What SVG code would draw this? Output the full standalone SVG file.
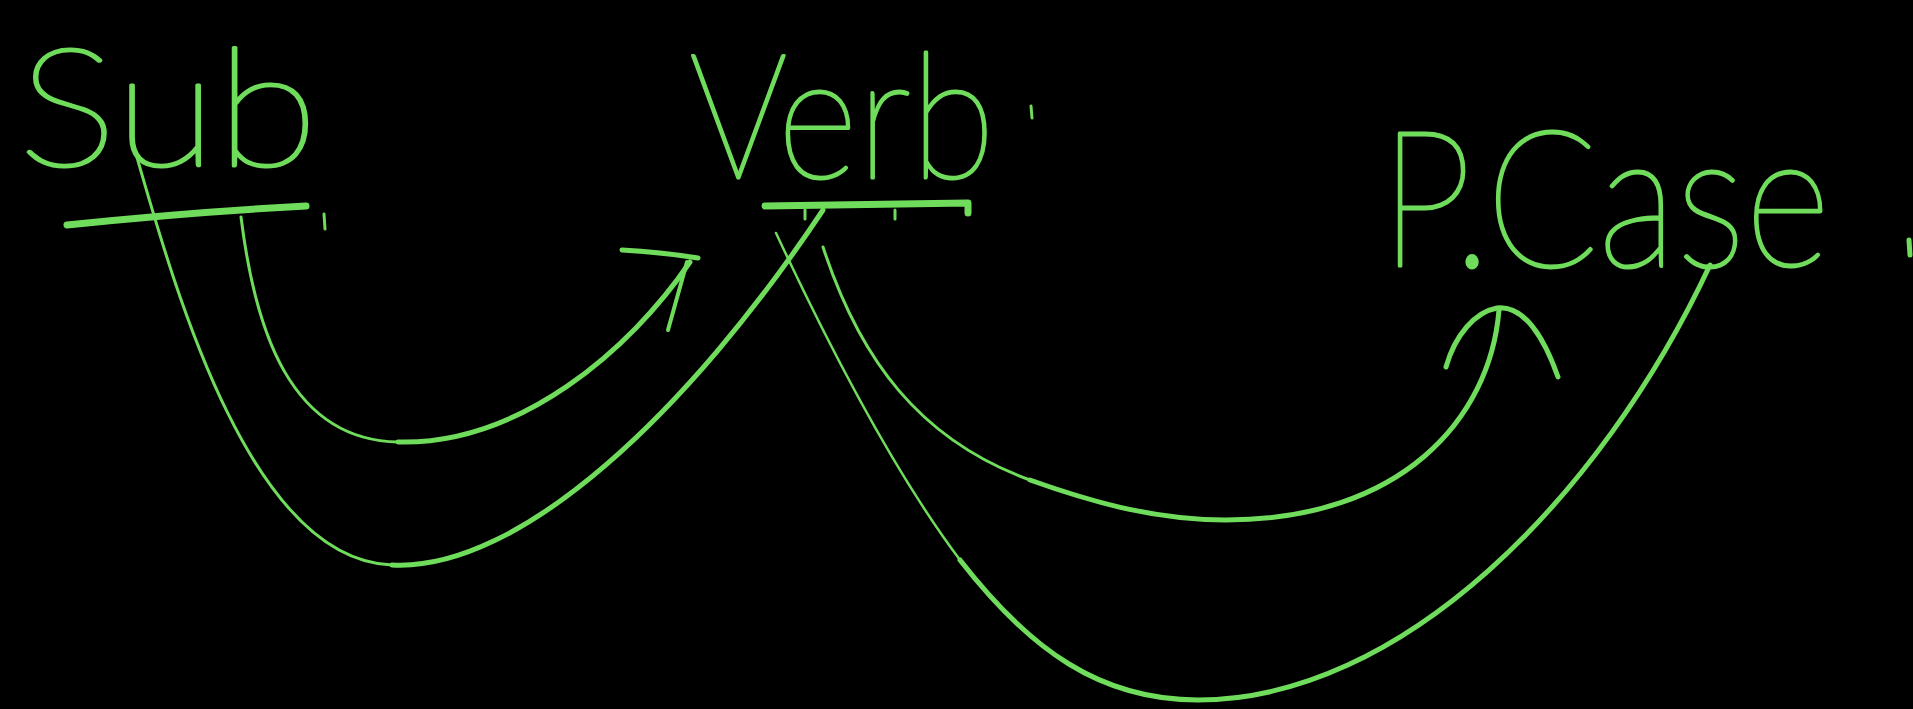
<svg xmlns="http://www.w3.org/2000/svg" width="1913" height="709" viewBox="0 0 1913 709">
<style>
.ink{fill:none;stroke:#6fdc5c;stroke-linecap:round;stroke-linejoin:round}
.lbl{fill:#6fdc5c;stroke:#6fdc5c;stroke-width:3;stroke-linejoin:round;font-family:Lato,Inter,"Open Sans","DejaVu Sans",sans-serif;font-weight:200}
</style>
<rect width="1913" height="709" fill="#000"/>
<g id="sub">
<text class="lbl" x="18" y="166" font-size="165" textLength="300" lengthAdjust="spacingAndGlyphs">Sub</text>
<path class="ink" stroke-width="7" d="M67,225 Q190,212 306,206"/>
<path class="ink" stroke-width="3" d="M324,214 L325,229"/>
</g>
<g id="verb">
<text class="lbl" x="689" y="178" font-size="175" textLength="306" lengthAdjust="spacingAndGlyphs">Verb</text>
<path class="ink" stroke-width="7" d="M765,206 L968,203 L968,213"/>
<path class="ink" stroke-width="3" d="M805,210 L805,219 M895,210 L895,219"/>
<path class="ink" stroke-width="3" d="M1031,106 L1032,118"/>
</g>
<g id="pcase">
<text class="lbl" x="1380" y="266" font-size="190" textLength="450" lengthAdjust="spacingAndGlyphs">P.Case</text>
<path class="ink" stroke-width="5" d="M1909,240 L1910,255"/>
</g>
<g id="connectors">
<path class="ink" stroke-width="3" d="M134,147 C175,290 250,560 392,565"/>
<path class="ink" stroke-width="5" d="M392,565 C520,572 690,410 823,210"/>
<path class="ink" stroke-width="3" d="M241,217 C255,330 290,440 398,442"/>
<path class="ink" stroke-width="5" d="M398,442 C520,445 630,350 690,262"/>
<path class="ink" stroke-width="5" d="M622,250 Q660,252 698,258"/>
<path class="ink" stroke-width="4" d="M687,262 L668,330"/>
<path class="ink" stroke-width="3" d="M823,247 C860,360 920,440 1030,480"/>
<path class="ink" stroke-width="5" d="M1030,480 C1100,505 1160,520 1226,520 C1400,520 1490,420 1499,310"/>
<path class="ink" stroke-width="5" d="M1446,367 C1455,335 1475,312 1497,308 C1525,305 1545,340 1558,377"/>
<path class="ink" stroke-width="2.5" d="M776,233 C840,370 900,480 960,560"/>
<path class="ink" stroke-width="5" d="M960,560 C1030,650 1100,700 1198,700 C1400,700 1600,500 1710,265"/>
</g>
</svg>
